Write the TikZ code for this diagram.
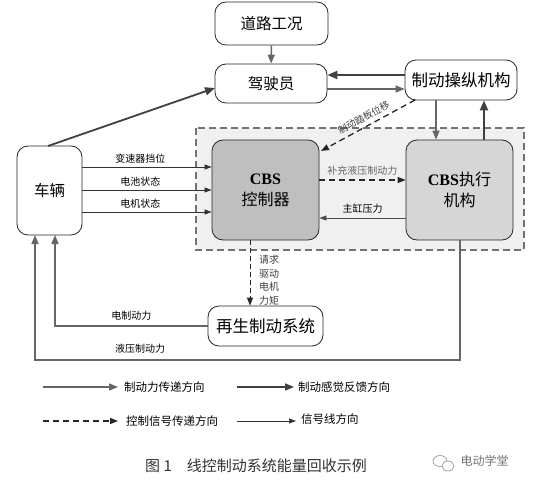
\documentclass[tikz,border=0pt]{standalone}
\usepackage{fontspec}
\setmainfont{Noto Sans CJK SC}
\newfontfamily\latinserif{Liberation Serif}
\usetikzlibrary{arrows.meta,calc}
\begin{document}
\begin{tikzpicture}[x=1pt,y=-1pt,
  box/.style={draw=black!85, rounded corners=11pt, line width=0.8pt, fill=white, inner sep=0pt, align=center, font=\fontsize{15.5}{18}\selectfont},
  force/.style={draw=black!60, line width=1.5pt, -{Triangle[length=9pt,width=7pt]}},
  feedback/.style={draw=black!75, line width=2.2pt, -{Triangle[length=10pt,width=8pt]}},
  ctrl/.style={draw=black!85, line width=1.3pt, dash pattern=on 6pt off 4pt, -{Triangle[length=8pt,width=6pt]}},
  sig/.style={draw=black!80, line width=0.7pt, -{Triangle[length=7pt,width=5pt]}},
  lbl/.style={font=\fontsize{10}{12}\selectfont, inner sep=1pt},
  leg/.style={font=\fontsize{11.5}{13}\selectfont, inner sep=1pt, anchor=west}
]
\useasboundingbox (0,0) rectangle (554,484);
\fill[white] (0,0) rectangle (554,484);

% shaded dashed region
\draw[draw=black!55, fill=black!6, line width=1.1pt, dash pattern=on 7pt off 4pt] (196,128) rectangle (524,250);

% nodes
\node[box, minimum width=113pt, minimum height=43pt] (road) at (271.5,23.5) {道路工况};
\node[box, minimum width=112pt, minimum height=39pt] (driver) at (271,83.5) {驾驶员};
\node[box, minimum width=112pt, minimum height=40pt, font=\fontsize{16.5}{19}\selectfont] (pedal) at (461,80) {制动操纵机构};
\node[box, minimum width=65pt, minimum height=89pt] (car) at (49.5,190.5) {车辆};
\node[box, fill=black!25, minimum width=107pt, minimum height=100pt, font=\fontsize{16}{21}\selectfont] (ctrl) at (265.5,190) {{\latinserif\bfseries CBS}\\控制器};
\node[box, fill=black!16, minimum width=107pt, minimum height=100pt, font=\fontsize{16}{21}\selectfont] (exec) at (459.5,190) {{\latinserif\bfseries CBS}执行\\机构};
\node[box, minimum width=115pt, minimum height=40pt, font=\fontsize{16.5}{19}\selectfont] (regen) at (265.5,326) {再生制动系统};

% driver related
\draw[force] (road) -- (driver);
\coordinate (fb1) at ([yshift=5pt]pedal.west);
\draw[feedback] (fb1) -- (fb1 -| driver.east);
\coordinate (dp1) at ([yshift=-5.5pt]driver.east);
\draw[force] (dp1) -- (dp1 -| pedal.west);
\coordinate (pd1) at (436,100);
\draw[force] (pd1) -- (pd1 |- exec.north);
\coordinate (ep1) at (484,140);
\draw[feedback] (ep1) -- (ep1 |- pedal.south);
\coordinate (pedsw) at (415,100);
\coordinate (ctrne) at (321,151);
\draw[ctrl] (pedsw) -- node[lbl, sloped, above=3pt, pos=0.5, text=black!75, font=\fontsize{9.5}{11}\selectfont] {制动踏板位移} (ctrne);
\coordinate (carN) at (48,146);
\coordinate (drvW) at (215,88);
\draw[feedback, line width=1.8pt] (carN) -- (drvW);

% signals from car
\foreach \y/\t/\n in {167/变速器挡位/a, 190/电池状态/b, 212/电机状态/c}{
  \coordinate (s\n) at (82,\y);
  \draw[sig] (s\n) -- (s\n -| ctrl.west) node[lbl, pos=0.45, above=2pt] {\t};
}

% between controller and actuator
\coordinate (h1) at (319,180);
\draw[ctrl] (h1) -- (h1 -| exec.west) node[lbl, midway, above=3pt, text=black!60] {补充液压制动力};
\coordinate (m1) at (406,218);
\draw[sig, draw=black!70] (m1) -- (m1 -| ctrl.east) node[lbl, midway, above=3pt] {主缸压力};

% request to regen
\coordinate (r1) at (250,240);
\draw[ctrl, line width=0.9pt, dash pattern=on 5pt off 3pt] (r1) -- (r1 |- regen.north);
\node[lbl, align=center, font=\fontsize{10}{13.5}\selectfont, text=black!75] (req) at (269,280) {请求\\驱动\\电机\\力矩};

% forces back to car
\coordinate (e1) at (55,235);
\draw[force] (regen.west) -| (e1) node[lbl, pos=0.25, above=4pt] {电制动力};
\coordinate (x1) at (460,240);
\coordinate (e2) at (35,235);
\draw[force] (x1) |- (460,360) -| (e2);
\node[lbl] (hyd) at (140,349) {液压制动力};

% legend
\coordinate (L1a) at (43,387); \coordinate (L1b) at (118,387);
\draw[force] (L1a) -- (L1b);
\node[leg] (t1) at (123,387) {制动力传递方向};
\coordinate (L2a) at (237,387); \coordinate (L2b) at (294,387);
\draw[feedback, line width=1.6pt, -{Triangle[length=9pt,width=7pt]}] (L2a) -- (L2b);
\node[leg] (t2) at (297,387) {制动感觉反馈方向};
\coordinate (L3a) at (43,421); \coordinate (L3b) at (118,421);
\draw[ctrl] (L3a) -- (L3b);
\node[leg] (t3) at (125,421) {控制信号传递方向};
\coordinate (L4a) at (237,421); \coordinate (L4b) at (296,421);
\draw[sig] (L4a) -- (L4b);
\node[leg] (t4) at (300,419) {信号线方向};

% caption
\node[font=\fontsize{15}{17}\selectfont, text=black!80] (cap) at (256,466) {图 1\hspace{1em}线控制动系统能量回收示例};

% watermark
\draw[black!45, line width=0.6pt] (440,461) ellipse (7pt and 5.5pt);
\draw[black!45, line width=0.6pt, fill=white] (448,466) ellipse (6pt and 5pt);
\node[font=\fontsize{12}{14}\selectfont, text=black!55, anchor=west] (wm) at (457,461) {电动学堂};
\end{tikzpicture}
\end{document}
